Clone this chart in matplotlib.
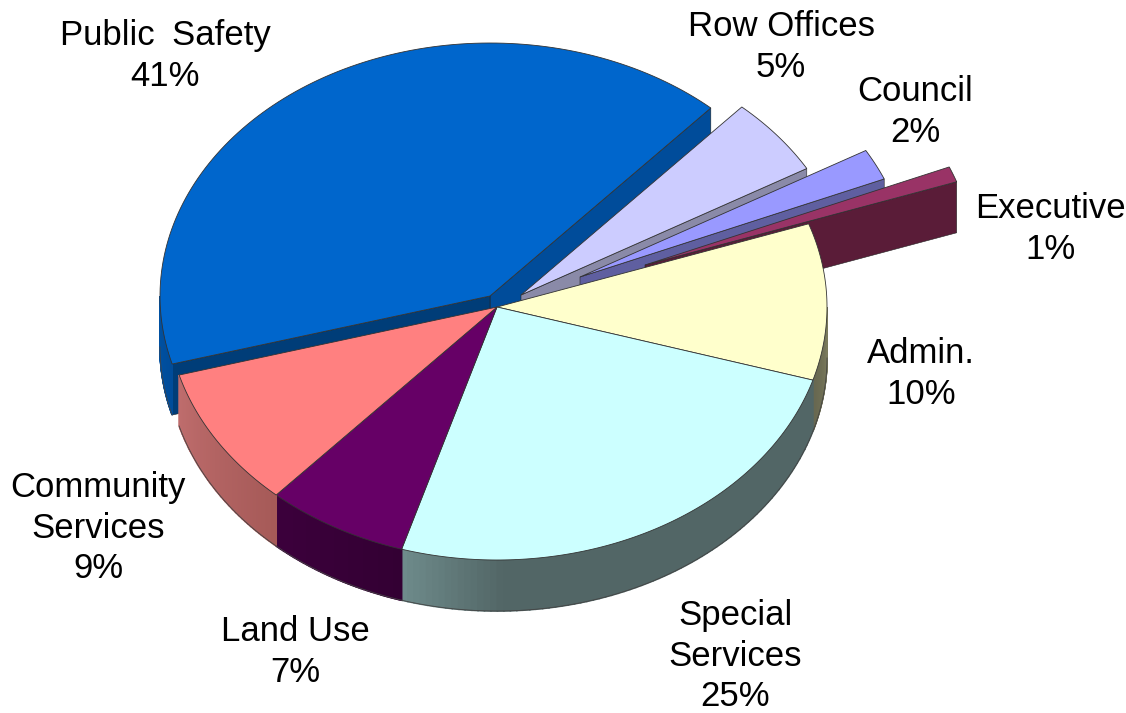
import numpy as np
import matplotlib
matplotlib.use("Agg")
import matplotlib.pyplot as plt
from matplotlib.patches import Polygon

plt.rcParams['font.family'] = ['Liberation Sans', 'DejaVu Sans']

# slices, clockwise starting from Admin
names = ['Admin.', 'Special\nServices', 'Land Use', 'Community\nServices',
         'Public\u2002Safety', 'Row Offices', 'Council', 'Executive']
percent = [10, 25, 7, 9, 41, 5, 2, 1]

top_colors = ['#ffffcc', '#ccffff', '#660066', '#ff8080',
              '#0066cc', '#ccccff', '#9999ff', '#993366']
face_colors = ['#66664f', '#526666', '#380038', '#a85a5a',
               '#004c9a', '#8a8aa8', '#5f5fa0', '#5a1c38']
rim_left = ['#66664f', '#6f8c8c', '#3c003c', '#bf6d6d',
            '#0052a4', '#8a8aa8', '#5f5fa0', '#5a1c38']
rim_right = ['#7a7a5c', '#526666', '#330033', '#a65a58',
             '#004c9a', '#8a8aa8', '#5f5fa0', '#5a1c38']

# apex of every slice in the picture, the last ones are pulled out
apex_x = [497, 497, 497, 497, 490, 521, 580, 645]
apex_y = [307, 307, 307, 307, 296, 295, 277, 265]

label_x = [921, 735, 295, 98, 165, 781, 915, 1050]
label_y = [374, 656, 652, 528, 56, 47, 112, 229]

rx, ry = 330, 253
depth = 51
first_angle = 19.2


def rim_pts(cx, cy, a0, a1, n=80):
    t = np.radians(np.linspace(a0, a1, n))
    return cx + rx * np.cos(t), cy - ry * np.sin(t)


def hex_rgb(c):
    return np.array(matplotlib.colors.to_rgb(c))


def draw_slice(ax, i, start, end):
    cx, cy = apex_x[i], apex_y[i]

    # cut faces from apex down to the rim, the pie's front part shows none
    # exploded small slices only show the lower one
    if i == 4:
        cuts = [end, start]
    elif i > 4:
        cuts = [end]
    else:
        cuts = []
    for ang in cuts:
        ex, ey = rim_pts(cx, cy, ang, ang, 1)
        col = '#003d78' if i == 4 and ang == start else face_colors[i]
        ax.add_patch(Polygon([(cx, cy), (ex[0], ey[0]), (ex[0], ey[0] + depth), (cx, cy + depth)],
                             closed=True, fc=col, ec='#222222', lw=0.4))

    # outer rim only where it faces us (180..360 degrees)
    lo, hi = min(start, end), max(start, end)
    for shift in (0, -360):
        a0 = max(lo + shift, -180)
        a1 = min(hi + shift, 0)
        if a1 <= a0:
            continue
        n = 80
        edges = np.linspace(a0, a1, n + 1)
        for k in range(n):
            x, y = rim_pts(cx, cy, edges[k], edges[k + 1], 6)
            quad = list(zip(x, y)) + list(zip(x[::-1], y[::-1] + depth))
            f = (k + 0.5) / n
            if i == 1:
                f = min(1, f * 5)
            col = hex_rgb(rim_left[i]) * (1 - f) + hex_rgb(rim_right[i]) * f
            ax.add_patch(Polygon(quad, closed=True, fc=col, ec=col, lw=1.2))
        x, y = rim_pts(cx, cy, a0, a1, 100)
        ax.plot(x, y + depth, color='#444444', lw=0.6)

    # top surface
    x, y = rim_pts(cx, cy, start, end, 120)
    pts = [(cx, cy)] + list(zip(x, y))
    ax.add_patch(Polygon(pts, closed=True, fc=top_colors[i], ec='#333333', lw=0.6))


fig = plt.figure(figsize=(11.26, 7.13), dpi=100)
ax = fig.add_axes([0, 0, 1, 1])
ax.set_xlim(0, 1126)
ax.set_ylim(713, 0)
ax.axis('off')

# angle range of each slice, going clockwise
sweep = np.array(percent) * 3.6
starts = first_angle - np.concatenate(([0], np.cumsum(sweep)[:-1]))

# back pieces first, then the exploded ones, then the front of the pie
for i in [4, 5, 6, 7, 0, 1, 2, 3]:
    s = starts[i] % 360 if i > 3 else starts[i]
    draw_slice(ax, i, s, s - sweep[i])

for i in range(len(names)):
    ax.text(label_x[i], label_y[i], names[i] + '\n' + str(percent[i]) + '%', ha='center', va='center',
            fontsize=25, linespacing=1.3, color='black')

fig.savefig('out.png', dpi=100)
